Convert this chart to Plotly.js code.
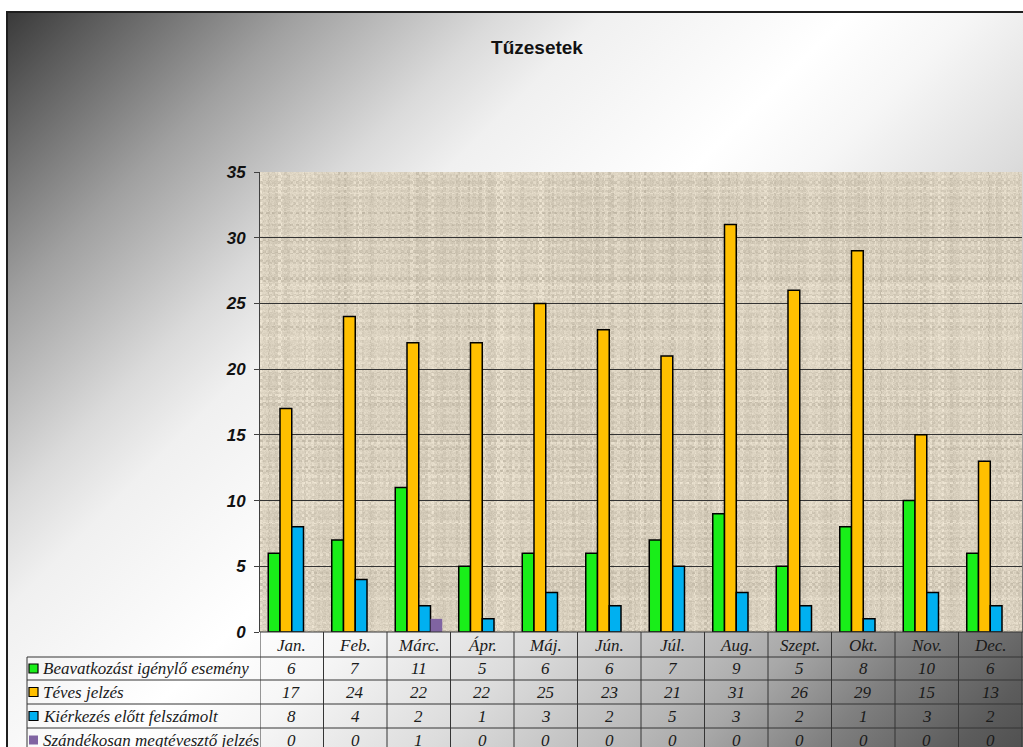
<!DOCTYPE html>
<html>
<head>
<meta charset="utf-8">
<script src="https://cdn.plot.ly/plotly-3.0.1.min.js"></script>
<style>
  html, body { margin: 0; padding: 0; width: 1023px; height: 747px; overflow: hidden; background: #ffffff; }
  #frame {
    position: absolute; left: 6px; top: 11px; width: 1017px; height: 736px;
    border-top: 2px solid #1e1e1e; border-left: 2px solid #1e1e1e;
    background: linear-gradient(135deg,
      #3a3a3a 0%, #5a5a5a 5%, #a0a0a0 16.5%, #dadada 28%, #f0f0f0 34%,
      #ffffff 48%, #f6f6f6 55%, #dcdcdc 66%, #b8b8b8 77%, #a8a8a8 81%,
      #808080 88%, #5c5c5c 96%, #505050 100%);
  }
  #chart { position: absolute; left: 0; top: 0; width: 1023px; height: 747px; }
</style>
</head>
<body>
<div id="frame"></div>
<div id="chart"></div>
<script>
// ---- data ----
const months = ['Jan.', 'Feb.', 'Márc.', 'Ápr.', 'Máj.', 'Jún.', 'Júl.', 'Aug.', 'Szept.', 'Okt.', 'Nov.', 'Dec.'];
const beavatkozas = [6, 7, 11, 5, 6, 6, 7, 9, 5, 8, 10, 6];
const teves = [17, 24, 22, 22, 25, 23, 21, 31, 26, 29, 15, 13];
const kierkezes = [8, 4, 2, 1, 3, 2, 5, 3, 2, 1, 3, 2];
const szandekos = [0, 0, 1, 0, 0, 0, 0, 0, 0, 0, 0, 0];
const seriesNames = ['Beavatkozást igénylő esemény', 'Téves jelzés', 'Kiérkezés előtt felszámolt', 'Szándékosan megtévesztő jelzés'];
const yTickVals = [0, 5, 10, 15, 20, 25, 30, 35];
const chartTitle = 'Tűzesetek';

// ---- styles ----
const seriesData = [beavatkozas, teves, kierkezes, szandekos];
const colors = ['#19ee19', '#ffc000', '#00b0f0', '#8064a2'];
const outlines = [1.5, 1.5, 1.5, 0];
const serif = 'Liberation Serif, Times New Roman, serif';
const tableFontSize = 17;

// ---- layout geometry (pixels) ----
const W = 1023, H = 747;
const plotLeft = 260, plotRight = 1022, plotTop = 172, plotBottom = 632;
const plotH = plotBottom - plotTop;
const py = p => (plotBottom - p) / plotH;           // pixel row -> paper y
const pxp = p => (p - plotLeft) / (plotRight - plotLeft); // pixel col -> paper x
const rowLines = [632, 657, 680, 704, 728];
const rowCenters = [668.5, 692, 716, 740];
const headerCenter = 645;
const tableBottom = 760;
const legendLeft = 27;
const lineCol = '#353535';

// ---- burlap texture for plot background ----
function makeTexture(w, h) {
  const c = document.createElement('canvas');
  c.width = w; c.height = h;
  const ctx = c.getContext('2d');
  const img = ctx.createImageData(w, h);
  const hash = n => { const s = Math.sin(n * 12.9898 + 78.233) * 43758.5453; return s - Math.floor(s); };
  for (let y = 0; y < h; y++) {
    const rowN = hash(Math.floor(y / 2) * 3.1 + 11);
    const rowStreak = hash(Math.floor(y / 5) * 1.7 + 5);
    for (let x = 0; x < w; x++) {
      const colN = hash(Math.floor(x / 2) * 5.7 + 1001);
      const colStreak = hash(Math.floor(x / 6) * 2.3 + 77);
      const weave = ((Math.floor(x / 3) + Math.floor(y / 3)) & 1) ? rowN : colN;
      const streak = ((Math.floor(x / 3) + Math.floor(y / 3)) & 1) ? rowStreak : colStreak;
      const fine = hash(x * 7.13 + y * 131.7);
      const v = (weave - 0.5) * 26 + (streak - 0.5) * 16 + (fine - 0.5) * 14;
      const i = (y * w + x) * 4;
      img.data[i] = Math.max(0, Math.min(255, 216 + v));
      img.data[i + 1] = Math.max(0, Math.min(255, 207 + v));
      img.data[i + 2] = Math.max(0, Math.min(255, 189 + v));
      img.data[i + 3] = 255;
    }
  }
  ctx.putImageData(img, 0, 0);
  return c.toDataURL('image/png');
}

const traces = seriesData.map((vals, k) => ({
  type: 'bar',
  x: months.map((m, i) => i),
  y: vals,
  name: seriesNames[k],
  marker: { color: colors[k], line: { color: '#000000', width: outlines[k] } },
  hoverinfo: 'skip'
}));

const shapes = [];
const annotations = [];

// vertical column lines
for (let i = 0; i <= months.length; i++) {
  shapes.push({ type: 'line', xref: 'x', yref: 'paper', x0: i - 0.5, x1: i - 0.5,
    y0: py(plotBottom), y1: py(tableBottom), line: { color: lineCol, width: 1 } });
}
// horizontal lines
rowLines.forEach((r, idx) => {
  shapes.push({ type: 'line', xref: 'paper', yref: 'paper',
    x0: idx === 0 ? 0 : pxp(legendLeft), x1: 1.01, y0: py(r), y1: py(r),
    line: { color: lineCol, width: 1 } });
});
// legend column left border
shapes.push({ type: 'line', xref: 'paper', yref: 'paper', x0: pxp(legendLeft), x1: pxp(legendLeft),
  y0: py(rowLines[1]), y1: py(tableBottom), line: { color: lineCol, width: 1 } });

// month headers
months.forEach((m, i) => {
  annotations.push({ xref: 'x', yref: 'paper', x: i, y: py(headerCenter), text: '<i>' + m + '</i>',
    showarrow: false, xanchor: 'center', yanchor: 'middle',
    font: { family: serif, size: tableFontSize, color: '#1a1a1a', style: 'italic' } });
});

// values + legend rows
seriesData.forEach((vals, k) => {
  vals.forEach((v, i) => {
    annotations.push({ xref: 'x', yref: 'paper', x: i, y: py(rowCenters[k]), text: '<i>' + v + '</i>',
      showarrow: false, xanchor: 'center', yanchor: 'middle',
      font: { family: serif, size: tableFontSize, color: '#1a1a1a', style: 'italic' } });
  });
  const sq = 9, cx = 33.5, cy = rowCenters[k];
  shapes.push({ type: 'rect', xref: 'paper', yref: 'paper',
    x0: pxp(cx - sq / 2), x1: pxp(cx + sq / 2), y0: py(cy + sq / 2), y1: py(cy - sq / 2),
    fillcolor: colors[k], line: { color: '#000000', width: outlines[k] > 0 ? 1.2 : 0 } });
  annotations.push({ xref: 'paper', yref: 'paper', x: pxp(41), y: py(rowCenters[k]), text: '<i>' + seriesNames[k] + '</i>',
    showarrow: false, xanchor: 'left', yanchor: 'middle',
    font: { family: serif, size: tableFontSize, color: '#1a1a1a', style: 'italic' } });
});

const layout = {
  width: W, height: H,
  margin: { l: plotLeft, r: W - plotRight, t: plotTop, b: H - plotBottom, pad: 0 },
  paper_bgcolor: 'rgba(0,0,0,0)',
  plot_bgcolor: 'rgba(0,0,0,0)',
  showlegend: false,
  barmode: 'group',
  bargap: 0.26,
  bargroupgap: 0,
  title: {
    text: '<b>' + chartTitle + '</b>',
    x: 537 / W, xref: 'container', xanchor: 'center',
    y: 1 - 47 / H, yref: 'container', yanchor: 'middle',
    font: { family: 'Liberation Sans, Arial, sans-serif', size: 19, color: '#111111' }
  },
  xaxis: {
    type: 'linear', range: [-0.5, months.length - 0.5],
    showticklabels: false, ticks: '', showgrid: false, zeroline: false,
    showline: false, fixedrange: true
  },
  yaxis: {
    range: [0, 35], tickvals: yTickVals,
    ticktext: yTickVals.map(v => '<b><i>' + v + '</i></b>'),
    ticks: 'outside', ticklen: 5, tickcolor: '#404040', tickwidth: 1,
    ticklabelstandoff: 5,
    tickfont: { family: 'Liberation Sans, Arial, sans-serif', size: 17, color: '#111111' },
    showgrid: true, gridcolor: '#333333', gridwidth: 1,
    zeroline: false, showline: true, linecolor: '#404040', linewidth: 1,
    fixedrange: true
  },
  images: [{
    source: makeTexture(plotRight - plotLeft, plotH),
    xref: 'paper', yref: 'paper', x: 0, y: 1, sizex: 1, sizey: 1,
    xanchor: 'left', yanchor: 'top', sizing: 'stretch', layer: 'below'
  }],
  shapes: shapes,
  annotations: annotations
};

Plotly.newPlot('chart', traces, layout, { displayModeBar: false, staticPlot: true });
</script>
</body>
</html>
